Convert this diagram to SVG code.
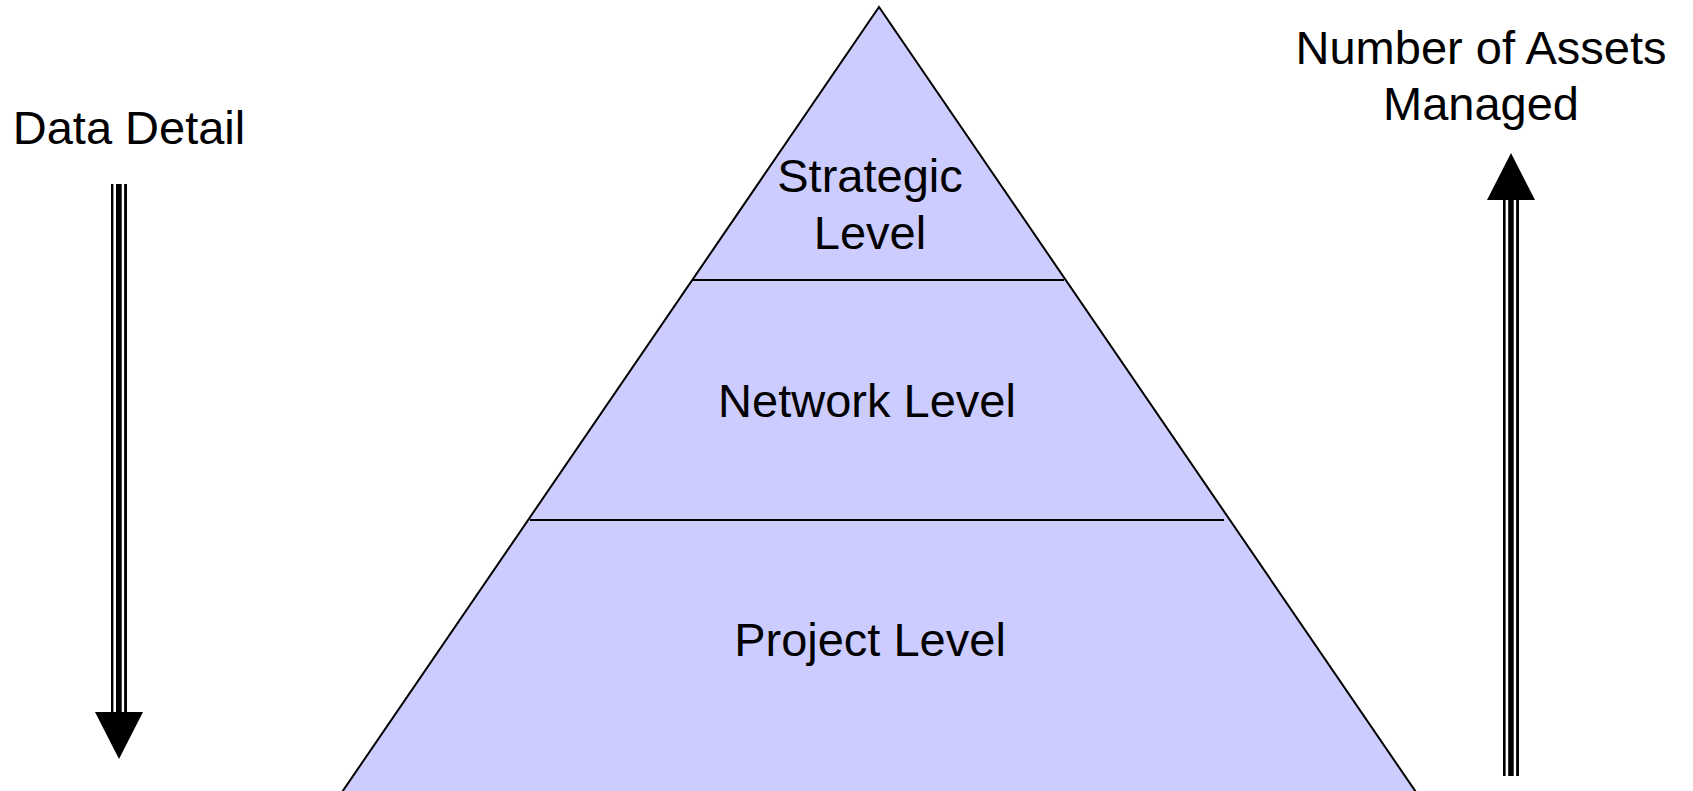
<svg xmlns="http://www.w3.org/2000/svg" width="1693" height="791" viewBox="0 0 1693 791">
<style>
.lvl{fill:#ccccff;stroke:none}
.edge{fill:none;stroke:#000;stroke-width:2}
.sep{stroke:#000;stroke-width:2}
.t{font-family:"Liberation Sans",Arial,sans-serif;font-size:47px;fill:#000;text-anchor:middle}
</style>
<rect width="1693" height="791" fill="#fff"/>
<g id="pyramid">
<g id="strategic">
<polygon class="lvl" points="879,7 692.3,280 1065.7,280"/>
<text class="t" x="870" y="192">Strategic</text>
<text class="t" x="870" y="249">Level</text>
</g>
<g id="network">
<polygon class="lvl" points="692.3,280 1065.7,280 1229.9,520 528.1,520"/>
<text class="t" x="867" y="417">Network Level</text>
</g>
<g id="project">
<polygon class="lvl" points="528.1,520 1229.9,520 1421.4,800 336.6,800"/>
<text class="t" x="870" y="656">Project Level</text>
</g>
<polyline class="edge" points="336.6,800 879,7 1421.4,800"/>
<line class="sep" x1="692" y1="280" x2="1064" y2="280"/>
<line class="sep" x1="530" y1="520" x2="1224" y2="520"/>
</g>
<g id="data-detail">
<text class="t" x="129" y="144">Data Detail</text>
</g>
<g id="assets-label">
<text class="t" x="1481" y="64">Number of Assets</text>
<text class="t" x="1481" y="120">Managed</text>
</g>
<g id="connectors">
<g id="arrow-down">
<rect x="111" y="184" width="16" height="529" fill="#000"/>
<rect x="113.4" y="184" width="2.6" height="529" fill="#fff"/>
<rect x="121.7" y="184" width="2.4" height="529" fill="#fff"/>
<polygon points="95,712 143,712 119,759" fill="#000"/>
</g>
<g id="arrow-up">
<rect x="1503" y="199" width="16" height="577" fill="#000"/>
<rect x="1505.6" y="199" width="2.6" height="577" fill="#fff"/>
<rect x="1513.7" y="199" width="2.4" height="577" fill="#fff"/>
<polygon points="1511,153 1487,200 1535,200" fill="#000"/>
</g>
</g>
</svg>
